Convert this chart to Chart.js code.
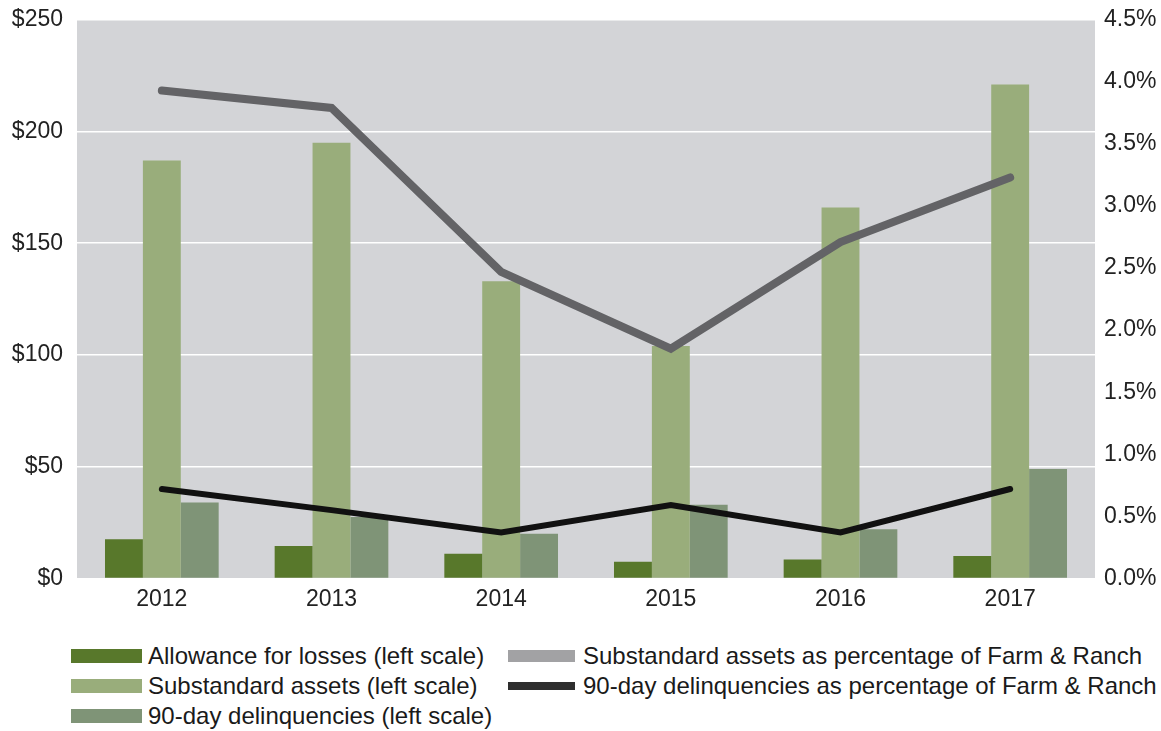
<!DOCTYPE html>
<html>
<head>
<meta charset="utf-8">
<script src="https://cdn.jsdelivr.net/npm/chart.js@4.4.1/dist/chart.umd.min.js"></script>
<style>
  html, body { margin: 0; padding: 0; background: #fff; }
  #wrap { position: relative; width: 1161px; height: 731px; overflow: hidden; font-family: "Liberation Sans", Arial, sans-serif; }
  #chartBox { position: absolute; left: 0; top: -8px; width: 1161px; height: 628px; }
  .lg-item { position: absolute; display: flex; align-items: center; font-size: 24px; line-height: 28px; color: #1a1a1a; white-space: nowrap; }
  .lg-swatch { margin-right: 6px; }
</style>
</head>
<body>
<div id="wrap">
  <div id="chartBox"><canvas id="farmChart"></canvas></div>
  <div id="legend"></div>
</div>
<script>
  // years on the x axis
  const years = ['2012', '2013', '2014', '2015', '2016', '2017'];

  // $ millions, left scale
  const allowance = [17.5, 14.5, 11, 7.5, 8.5, 10];
  const substandard = [187, 195, 133, 104, 166, 221];
  const delinquencies = [34, 27.5, 20, 33, 22, 49];

  // percent of Farm & Ranch, right scale
  const substandardPct = [3.93, 3.79, 2.47, 1.85, 2.71, 3.23];
  const delinquencyPct = [0.72, 0.55, 0.37, 0.59, 0.37, 0.72];

  const leftTicks = [0, 50, 100, 150, 200, 250];
  const rightTicks = [0, 0.5, 1, 1.5, 2, 2.5, 3, 3.5, 4, 4.5];

  const tickFont = { family: '"Liberation Sans", Arial, sans-serif', size: 23 };

  // grey fill behind the plot area
  const plotBg = {
    id: 'plotBg',
    beforeDraw(chart) {
      const a = chart.chartArea, ctx = chart.ctx;
      ctx.save();
      ctx.fillStyle = '#d3d4d7';
      ctx.fillRect(a.left, a.top, a.right - a.left, a.bottom - a.top);
      ctx.restore();
    }
  };

  const chart = new Chart(document.getElementById('farmChart'), {
    type: 'bar',
    data: {
      labels: years,
      datasets: [
        { type: 'line', label: 'Substandard assets as percentage of Farm & Ranch', data: substandardPct, yAxisID: 'y1',
          borderColor: '#636366', backgroundColor: '#a2a2a4', borderWidth: 8, pointRadius: 0, borderCapStyle: 'round', borderJoinStyle: 'miter', tension: 0, order: 0, lgCol: 1, lgRow: 0 },
        { type: 'line', label: '90-day delinquencies as percentage of Farm & Ranch', data: delinquencyPct, yAxisID: 'y1',
          borderColor: '#111111', backgroundColor: '#2e2e2e', borderWidth: 6, pointRadius: 0, borderCapStyle: 'round', borderJoinStyle: 'miter', tension: 0, order: 0, lgCol: 1, lgRow: 1 },
        { label: 'Allowance for losses (left scale)', data: allowance, yAxisID: 'y', backgroundColor: '#58782b', order: 1, lgCol: 0, lgRow: 0 },
        { label: 'Substandard assets (left scale)', data: substandard, yAxisID: 'y', backgroundColor: '#99ad7b', order: 1, lgCol: 0, lgRow: 1 },
        { label: '90-day delinquencies (left scale)', data: delinquencies, yAxisID: 'y', backgroundColor: '#7f9477', order: 1, lgCol: 0, lgRow: 2 }
      ]
    },
    options: {
      responsive: true,
      maintainAspectRatio: false,
      animation: false,
      layout: { padding: { top: 4, bottom: 0 } },
      datasets: { bar: { categoryPercentage: 0.67, barPercentage: 1.0 } },
      plugins: { legend: { display: false }, tooltip: { enabled: false } },
      scales: {
        x: {
          grid: { display: false, drawTicks: false },
          border: { display: false },
          ticks: { font: tickFont, color: '#222', padding: 7 }
        },
        y: {
          position: 'left', min: 0, max: 250,
          afterBuildTicks: s => { s.ticks = leftTicks.map(v => ({ value: v })); },
          afterFit: s => { s.width = 77; },
          grid: { color: '#ffffff', lineWidth: 1.5, drawTicks: false },
          border: { display: false },
          ticks: { font: tickFont, color: '#222', padding: 14, callback: v => '$' + v }
        },
        y1: {
          position: 'right', min: 0, max: 4.5,
          afterBuildTicks: s => { s.ticks = rightTicks.map(v => ({ value: v })); },
          afterFit: s => { s.width = 66; },
          grid: { display: false, drawTicks: false },
          border: { display: false },
          ticks: { font: tickFont, color: '#222', padding: 9, callback: v => v.toFixed(1) + '%' }
        }
      }
    },
    plugins: [plotBg]
  });

  // two-column legend under the chart, built from the datasets
  const colX = [71, 508];
  const rowY = [642, 672, 702];
  const legendEl = document.getElementById('legend');
  chart.data.datasets.forEach(ds => {
    const item = document.createElement('div');
    item.className = 'lg-item';
    item.style.left = colX[ds.lgCol] + 'px';
    item.style.top = rowY[ds.lgRow] + 'px';
    const sw = document.createElement('span');
    sw.className = 'lg-swatch';
    sw.style.background = ds.backgroundColor;
    if (ds.type === 'line') {
      sw.style.width = '67px';
      sw.style.height = ds.lgRow === 0 ? '12px' : '8px';
      sw.style.marginRight = '8px';
    } else {
      sw.style.width = '71px';
      sw.style.height = '14px';
    }
    const txt = document.createElement('span');
    txt.textContent = ds.label;
    item.appendChild(sw);
    item.appendChild(txt);
    legendEl.appendChild(item);
  });
</script>
</body>
</html>
